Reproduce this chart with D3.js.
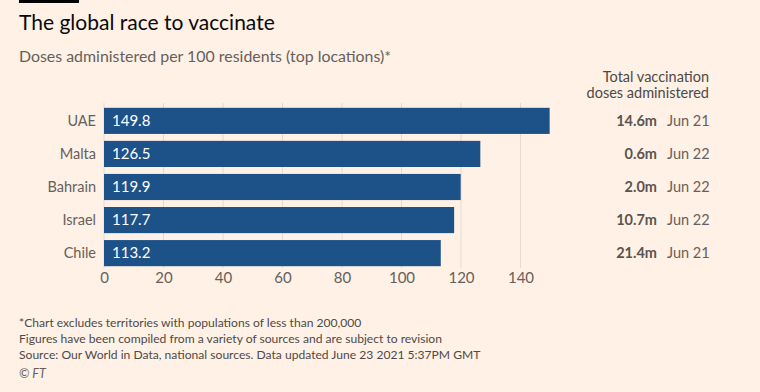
<!DOCTYPE html>
<html>
<head>
<meta charset="utf-8">
<script src="https://cdn.jsdelivr.net/npm/d3@7"></script>
<style>
  html, body { margin: 0; padding: 0; background: #FFF1E5; }
  svg { display: block; font-family: Lato, "Open Sans", sans-serif; }
</style>
</head>
<body>
<svg id="chart" width="760" height="392"></svg>
<script>
const countries = ["UAE", "Malta", "Bahrain", "Israel", "Chile"];
const dosesPer100 = [149.8, 126.5, 119.9, 117.7, 113.2];
const totalDoses = ["14.6m", "0.6m", "2.0m", "10.7m", "21.4m"];
const updated = ["Jun 21", "Jun 22", "Jun 22", "Jun 22", "Jun 21"];
const xTicks = [0, 20, 40, 60, 80, 100, 120, 140];

const svg = d3.select("#chart");
svg.append("rect").attr("width", 760).attr("height", 392).attr("fill", "#FFF1E5");

// top accent bar
svg.append("rect").attr("x", 19).attr("y", 0).attr("width", 60).attr("height", 3).attr("fill", "#000");

svg.append("text").attr("x", 19).attr("y", 30)
  .attr("font-size", 21).attr("fill", "#0a0a0a").text("The global race to vaccinate");
svg.append("text").attr("x", 19).attr("y", 62)
  .attr("font-size", 15.9).attr("fill", "#66605C").text("Doses administered per 100 residents (top locations)*");

const x = d3.scaleLinear().domain([0, 140]).range([104, 520.5]);
const y = d3.scaleBand().domain(countries).range([104.5, 269.5]).paddingInner(0.21).paddingOuter(0.1);

// gridlines
svg.append("g").selectAll("line").data(xTicks).join("line")
  .attr("x1", d => x(d)).attr("x2", d => x(d))
  .attr("y1", 103).attr("y2", 268)
  .attr("stroke", "#E6D9CE").attr("stroke-width", 1);

// bars
svg.append("g").selectAll("rect").data(countries).join("rect")
  .attr("x", x(0)).attr("y", d => y(d))
  .attr("width", (d, i) => x(dosesPer100[i]) - x(0))
  .attr("height", y.bandwidth())
  .attr("fill", "#1D5289");

// value labels inside bars
svg.append("g").selectAll("text").data(countries).join("text")
  .attr("x", x(0) + 8).attr("y", d => y(d) + y.bandwidth() / 2)
  .attr("dy", "0.35em").attr("font-size", 15).attr("fill", "#fff")
  .text((d, i) => dosesPer100[i].toFixed(1));

// category labels
svg.append("g").selectAll("text").data(countries).join("text")
  .attr("x", 96).attr("y", d => y(d) + y.bandwidth() / 2)
  .attr("dy", "0.35em").attr("text-anchor", "end")
  .attr("font-size", 14.5).attr("fill", "#66605C").text(d => d);

// x axis
const xAxis = d3.axisBottom(x).tickValues(xTicks).tickSize(0).tickPadding(0);
const gx = svg.append("g").attr("transform", "translate(0,272)").call(xAxis);
gx.select(".domain").remove();
gx.selectAll("text").attr("font-size", 15).attr("fill", "#66605C")
  .attr("font-family", "Lato, 'Open Sans', sans-serif").attr("dy", "0.75em");

// right column header
svg.append("text").attr("x", 709).attr("y", 82).attr("text-anchor", "end")
  .attr("font-size", 14.5).attr("fill", "#4E4946").text("Total vaccination");
svg.append("text").attr("x", 709).attr("y", 98).attr("text-anchor", "end")
  .attr("font-size", 14.5).attr("fill", "#4E4946").text("doses administered");

svg.append("g").selectAll("text").data(countries).join("text")
  .attr("x", 657).attr("y", d => y(d) + y.bandwidth() / 2)
  .attr("dy", "0.35em").attr("text-anchor", "end")
  .attr("font-size", 14.5).attr("font-weight", "bold").attr("fill", "#5A5450")
  .text((d, i) => totalDoses[i]);
svg.append("g").selectAll("text").data(countries).join("text")
  .attr("x", 667).attr("y", d => y(d) + y.bandwidth() / 2)
  .attr("dy", "0.35em").attr("text-anchor", "start")
  .attr("font-size", 14.5).attr("fill", "#66605C")
  .text((d, i) => updated[i]);

// footnotes
const notes = [
  "*Chart excludes territories with populations of less than 200,000",
  "Figures have been compiled from a variety of sources and are subject to revision",
  "Source: Our World in Data, national sources. Data updated June 23 2021 5:37PM GMT"
];
svg.append("g").selectAll("text").data(notes).join("text")
  .attr("x", 19).attr("y", (d, i) => 327 + i * 16)
  .attr("font-size", 12.1).attr("fill", "#4E4946").text(d => d);
svg.append("text").attr("x", 19).attr("y", 378)
  .attr("font-size", 12.5).attr("font-style", "italic").attr("fill", "#66605C").text("© FT");
</script>
</body>
</html>
